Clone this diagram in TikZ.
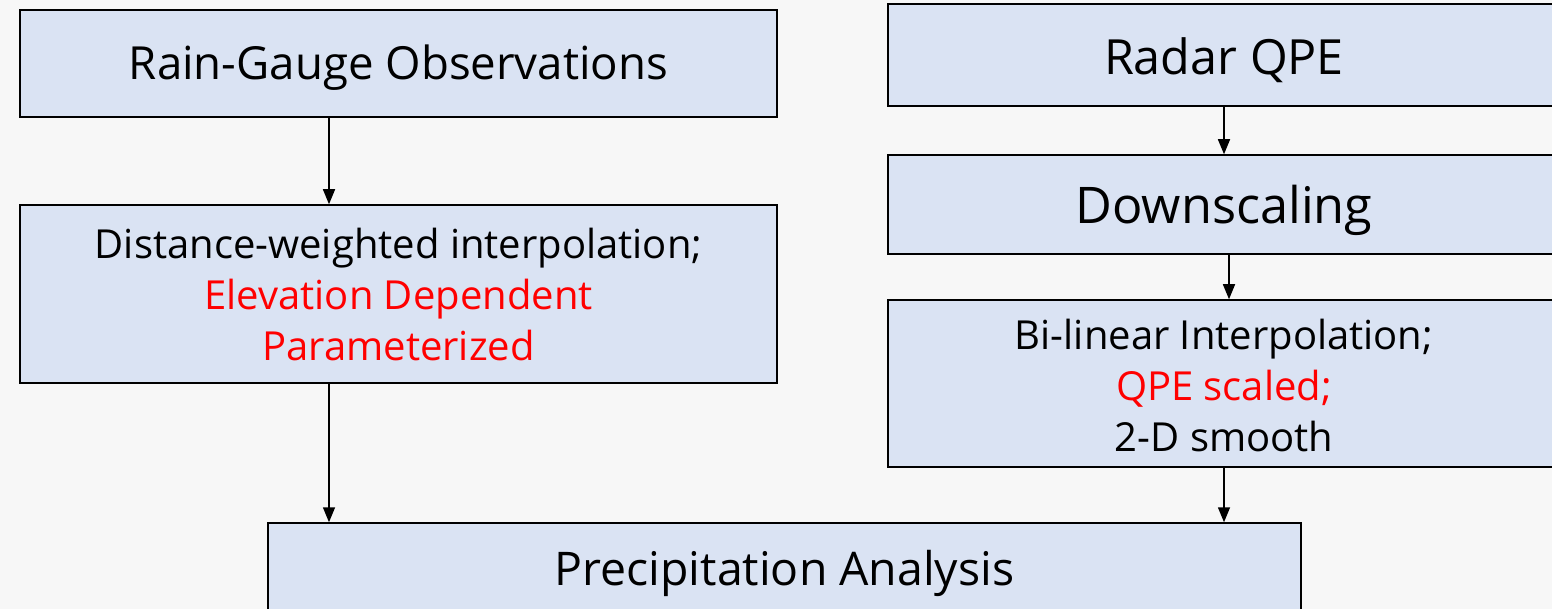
\documentclass[tikz,border=0pt]{standalone}
\usepackage{fontspec}
\setmainfont{Open Sans}
\usetikzlibrary{arrows.meta}
\definecolor{bgc}{HTML}{F7F7F7}
\definecolor{boxc}{HTML}{DAE3F3}
\definecolor{redt}{HTML}{FF0000}
\newcommand{\shiftdn}[2]{\raisebox{-#1}[\height][\depth]{#2}}
\tikzset{
  box/.style={draw=black, line width=1.5pt, fill=boxc, inner sep=0pt, align=center, anchor=center},
  mid/.style={font=\fontsize{40}{51}\selectfont},
  arr/.style={-{Triangle[length=15pt,width=12pt]}, line width=1.5pt}
}
\begin{document}
\begin{tikzpicture}[x=1pt,y=-1pt]
\useasboundingbox[fill=bgc] (0,0) rectangle (1552,609);
\node[box, font=\fontsize{45.6}{50}\selectfont, minimum width=757pt, minimum height=107pt] (A) at (398.5,63.5) {\shiftdn{4.5pt}{Rain-Gauge Observations}};
\node[box, mid, minimum width=757pt, minimum height=178pt] (B) at (398.5,294) {Distance-weighted interpolation;\\\textcolor{redt}{Elevation Dependent}\\\textcolor{redt}{Parameterized}};
\node[box, font=\fontsize{48.5}{50}\selectfont, minimum width=672pt, minimum height=102pt] (C) at (1224,55) {\shiftdn{5pt}{Radar QPE}};
\node[box, font=\fontsize{50.5}{50}\selectfont, minimum width=672pt, minimum height=99pt] (D) at (1224,204.5) {\shiftdn{6pt}{Downscaling}};
\node[box, mid, minimum width=672pt, minimum height=167pt] (E) at (1224,383.5) {\shiftdn{7pt}{\begin{tabular}{@{}c@{}}Bi-linear Interpolation;\\\textcolor{redt}{QPE scaled;}\\2-D smooth\end{tabular}}};
\node[box, font=\fontsize{46.4}{50}\selectfont, minimum width=1033pt, minimum height=96pt] (F) at (784.5,571) {\shiftdn{2pt}{Precipitation Analysis}};
\coordinate (xl) at (329,0);
\coordinate (xr) at (1224,0);
\coordinate (xd) at (1229,0);
\draw[arr] (A.south -| xl) -- (B.north -| xl);
\draw[arr] (B.south -| xl) -- (F.north -| xl);
\draw[arr] (C.south -| xr) -- (D.north -| xr);
\draw[arr] (D.south -| xd) -- (E.north -| xd);
\draw[arr] (E.south -| xr) -- (F.north -| xr);
\end{tikzpicture}
\end{document}
